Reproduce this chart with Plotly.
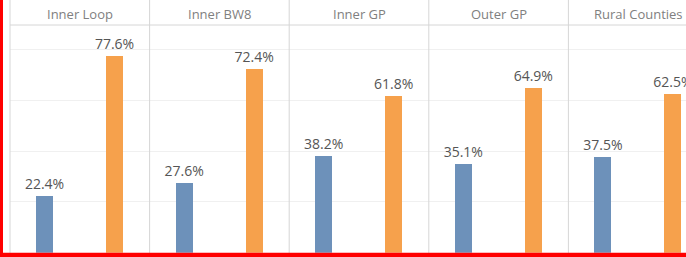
import plotly.graph_objects as go

# ---- data ----
regions = ["Inner Loop", "Inner BW8", "Inner GP", "Outer GP", "Rural Counties"]
groups = ["Group A", "Group B"]
group_a = [22.4, 27.6, 38.2, 35.1, 37.5]
group_b = [77.6, 72.4, 61.8, 64.9, 62.5]

# ---- layout constants (pixels) ----
W, H = 686, 257
left0 = 10.0
panel_w = 139.6
plot_top = 25.0
plot_bottom = 252.7
y_max = 89.6
bar_w = 0.245
colors = ["#6d91ba", "#f6a14c"]
font_family = "Open Sans, Noto Sans, sans-serif"

fig = go.Figure()

for i, reg in enumerate(regions):
    n = "" if i == 0 else str(i + 1)
    xa, ya = "x" + n, "y" + n
    x0 = left0 + panel_w * i
    x1 = x0 + panel_w
    vis_x1 = min(x1, W)
    rng_hi = -0.5 + 2 * (vis_x1 - x0) / panel_w
    for g, vals, col in ((groups[0], group_a, colors[0]), (groups[1], group_b, colors[1])):
        fig.add_trace(go.Bar(
            x=[g], y=[vals[i]], xaxis=xa, yaxis=ya,
            marker=dict(color=col, line=dict(width=0)),
            width=bar_w,
            texttemplate="%{y:.1f}%", textposition="outside",
            constraintext="none", cliponaxis=False,
            textfont=dict(family=font_family, size=14, color="#555555"),
            showlegend=False, hoverinfo="skip",
        ))
    fig.layout["xaxis" + n] = dict(
        domain=[x0 / W, vis_x1 / W], anchor=ya,
        type="category", categoryorder="array", categoryarray=groups,
        range=[-0.5, rng_hi], showticklabels=False, showgrid=False,
        zeroline=False, showline=False, ticks="", fixedrange=True,
    )
    fig.layout["yaxis" + n] = dict(
        domain=[(H - plot_bottom) / H, (H - plot_top) / H], anchor=xa,
        range=[0, y_max], dtick=20, showticklabels=False,
        showgrid=True, gridcolor="#f0f0f0", gridwidth=1,
        zeroline=False, showline=False, ticks="", fixedrange=True,
    )
    # header label
    fig.add_annotation(
        x=0.5, xref=xa, y=(H - 14) / H, yref="paper",
        text=reg, showarrow=False, xanchor="center", yanchor="middle",
        font=dict(family=font_family, size=13, color="#808080"),
    )
    # vertical divider
    fig.add_shape(type="line", xref="paper", yref="paper",
                  x0=x0 / W, x1=x0 / W, y0=0, y1=1,
                  line=dict(color="#d6d6d6", width=1))

# header underline
fig.add_shape(type="line", xref="paper", yref="paper",
              x0=left0 / W, x1=1, y0=(H - plot_top) / H, y1=(H - plot_top) / H,
              line=dict(color="#d6d6d6", width=1))

# red frame (left and bottom)
fig.add_shape(type="rect", xref="paper", yref="paper",
              x0=0, x1=3 / W, y0=0, y1=1,
              fillcolor="#ff0000", line=dict(width=0))
fig.add_shape(type="rect", xref="paper", yref="paper",
              x0=0, x1=1, y0=0, y1=4.3 / H,
              fillcolor="#ff0000", line=dict(width=0))

fig.update_layout(
    width=W, height=H,
    margin=dict(l=0, r=0, t=0, b=0),
    paper_bgcolor="white", plot_bgcolor="white",
    barmode="overlay", bargap=0,
)

fig.write_html(
    "out.html",
    config={"displayModeBar": False},
    post_script="document.body.style.margin='0px';document.body.style.overflow='hidden';",
)
